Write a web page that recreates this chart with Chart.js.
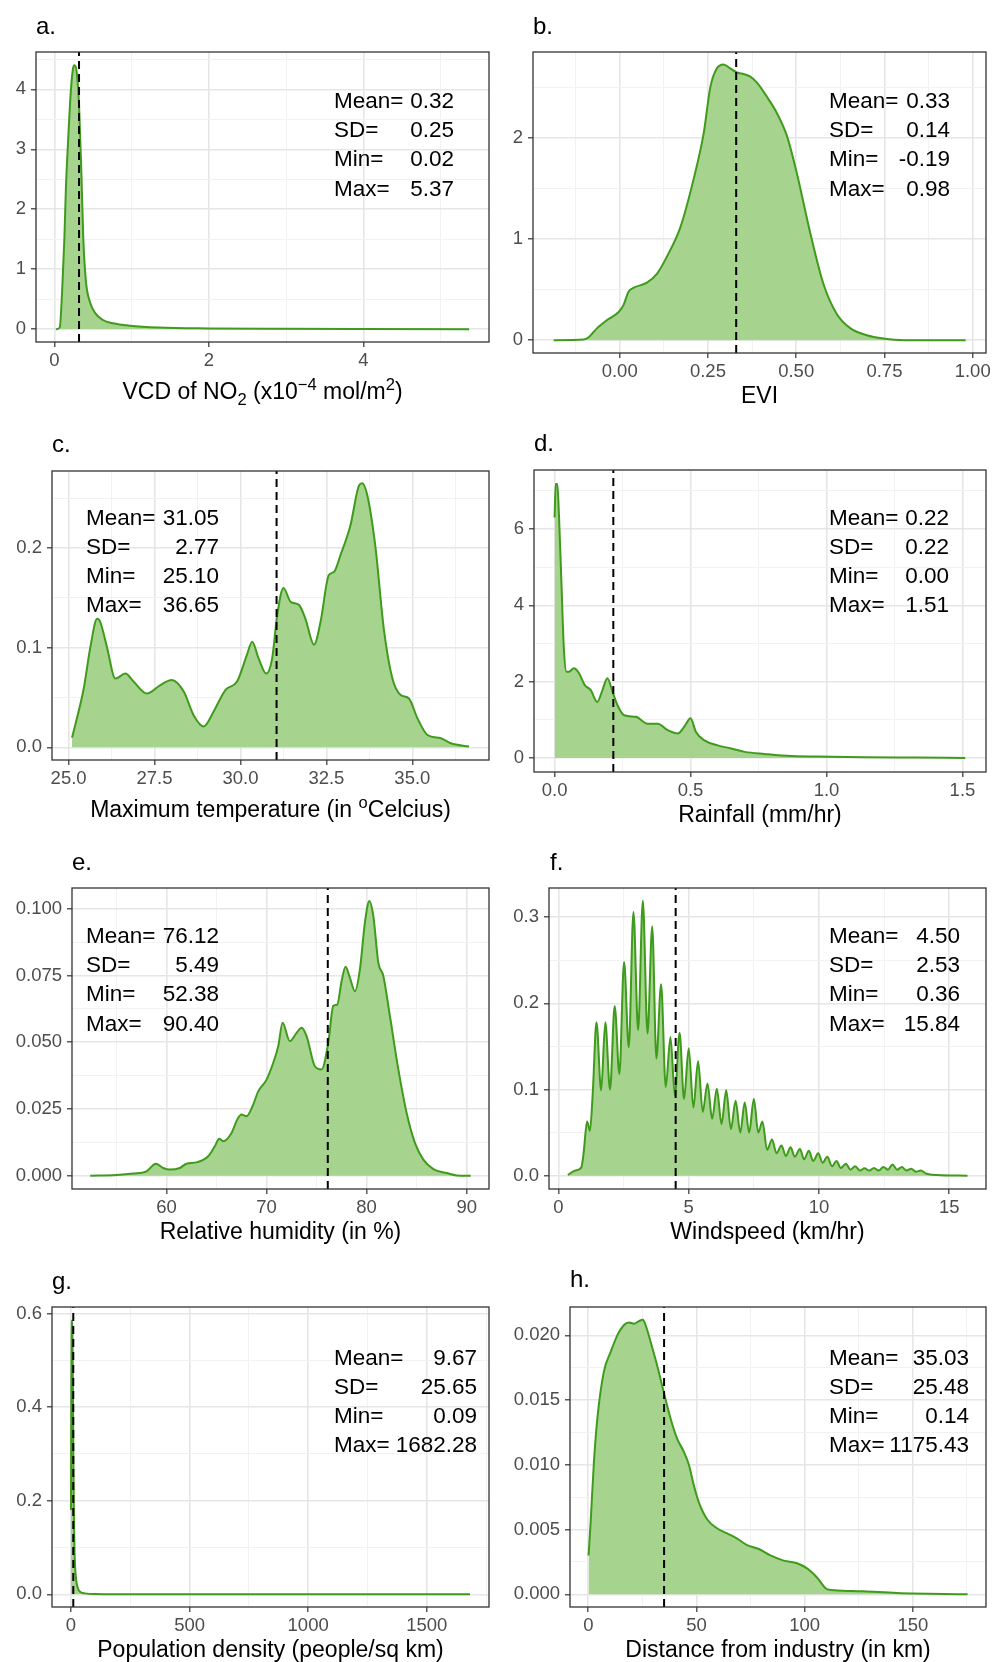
<!DOCTYPE html>
<html>
<head>
<meta charset="utf-8">
<script src="https://cdn.jsdelivr.net/npm/chart.js@4.4.1/dist/chart.umd.min.js"></script>
<style>
  html, body { margin: 0; padding: 0; background: #fff; }
  #page { position: relative; width: 993px; height: 1662px; overflow: hidden; font-family: "Liberation Sans", Arial, sans-serif; color: #000; }
  #page canvas { position: absolute; }
  .txt { position: absolute; white-space: nowrap; }
  .txt sub, .txt sup { line-height: 0; font-size: 72%; }
  .stats { position: absolute; }
  .stats div { display: flex; justify-content: space-between; white-space: nowrap; }
</style>
</head>
<body>
<div id="page"></div>
<script>
// a. NO2 column density
const aX = [0.02, 0.07, 0.10, 0.13, 0.15, 0.18, 0.21, 0.24, 0.26, 0.29, 0.32, 0.35, 0.375, 0.41, 0.46, 0.53, 0.63, 0.76, 0.98, 1.35, 2.0, 3.0, 4.0, 5.37];
const aY = [0.0, 0.03, 0.6, 1.5, 2.35, 3.18, 3.9, 4.33, 4.40, 4.29, 3.74, 2.63, 1.52, 0.79, 0.46, 0.27, 0.155, 0.10, 0.06, 0.03, 0.015, 0.008, 0.005, 0.002];
const aXTicks = ['0', '2', '4'];
const aYTicks = ['0', '1', '2', '3', '4'];
const aStats = ['0.32', '0.25', '0.02', '5.37'];

// b. EVI
const bX = [-0.187, -0.102, -0.088, -0.064, -0.036, -0.003, 0.011, 0.025, 0.04, 0.077, 0.106, 0.134, 0.172, 0.209, 0.238, 0.257, 0.275, 0.294, 0.313, 0.332, 0.346, 0.37, 0.389, 0.417, 0.445, 0.474, 0.502, 0.54, 0.577, 0.615, 0.653, 0.70, 0.747, 0.804, 0.98];
const bY = [0, 0.007, 0.03, 0.12, 0.2, 0.28, 0.35, 0.48, 0.52, 0.57, 0.66, 0.83, 1.12, 1.59, 2.05, 2.51, 2.69, 2.73, 2.69, 2.65, 2.64, 2.61, 2.55, 2.41, 2.25, 2.02, 1.65, 1.06, 0.56, 0.26, 0.12, 0.05, 0.017, 0.0, 0];
const bXTicks = ['0.00', '0.25', '0.50', '0.75', '1.00'];
const bYTicks = ['0', '1', '2'];
const bStats = ['0.33', '0.14', '-0.19', '0.98'];

// c. maximum temperature
const cX = [25.10, 25.44, 25.63, 25.83, 25.92, 26.12, 26.36, 26.65, 26.89, 27.28, 27.67, 28.0, 28.35, 28.64, 28.93, 29.22, 29.56, 29.9, 30.19, 30.34, 30.53, 30.75, 30.92, 31.07, 31.25, 31.46, 31.7, 31.89, 32.14, 32.33, 32.57, 32.72, 32.91, 33.2, 33.45, 33.54, 33.69, 33.93, 34.17, 34.42, 34.66, 34.9, 35.15, 35.44, 35.83, 36.12, 36.65];
const cY = [0.0097, 0.059, 0.1, 0.129, 0.126, 0.1, 0.069, 0.074, 0.066, 0.054, 0.0625, 0.0676, 0.056, 0.032, 0.021, 0.036, 0.0575, 0.066, 0.093, 0.106, 0.089, 0.074, 0.089, 0.133, 0.16, 0.146, 0.143, 0.129, 0.103, 0.126, 0.173, 0.176, 0.193, 0.223, 0.263, 0.265, 0.253, 0.2, 0.119, 0.069, 0.0525, 0.049, 0.029, 0.0124, 0.009, 0.004, 0.0007];
const cXTicks = ['25.0', '27.5', '30.0', '32.5', '35.0'];
const cYTicks = ['0.0', '0.1', '0.2'];
const cStats = ['31.05', '2.77', '25.10', '36.65'];

// d. rainfall
const dX = [0.0, 0.004, 0.01, 0.016, 0.025, 0.034, 0.044, 0.053, 0.071, 0.09, 0.111, 0.133, 0.157, 0.176, 0.194, 0.213, 0.231, 0.256, 0.299, 0.342, 0.379, 0.416, 0.453, 0.477, 0.5, 0.52, 0.551, 0.6, 0.649, 0.699, 0.772, 0.871, 1.018, 1.141, 1.326, 1.51];
const dY = [6.3, 7.18, 7.18, 6.39, 4.63, 2.88, 2.26, 2.26, 2.35, 2.22, 1.91, 1.78, 1.47, 1.78, 2.09, 1.74, 1.39, 1.12, 1.08, 0.9, 0.9, 0.73, 0.64, 0.82, 1.04, 0.68, 0.46, 0.33, 0.25, 0.16, 0.105, 0.05, 0.035, 0.018, 0.01, 0];
const dXTicks = ['0.0', '0.5', '1.0', '1.5'];
const dYTicks = ['0', '2', '4', '6'];
const dStats = ['0.22', '0.22', '0.00', '1.51'];

// e. relative humidity
const eX = [52.38, 55, 56.67, 58, 58.93, 59.67, 60.33, 61.33, 62, 63, 64.17, 64.83, 65.27, 65.67, 66.5, 67.07, 67.5, 68, 68.6, 69.17, 70, 70.67, 71.17, 71.6, 72.33, 73, 73.5, 74, 74.83, 75.5, 76.17, 76.67, 77.07, 77.5, 77.9, 78.33, 78.83, 79.33, 79.83, 80.27, 80.67, 81.17, 81.67, 82.33, 83.17, 84, 84.83, 85.67, 86.67, 88, 89, 90.4];
const eY = [0, 0.0003, 0.0008, 0.0016, 0.0045, 0.0029, 0.0023, 0.0029, 0.0045, 0.005, 0.0073, 0.011, 0.0138, 0.0129, 0.016, 0.021, 0.0229, 0.0223, 0.026, 0.0316, 0.036, 0.0423, 0.0485, 0.0573, 0.0504, 0.0535, 0.0554, 0.0523, 0.041, 0.0398, 0.0498, 0.0636, 0.0641, 0.0729, 0.0783, 0.0741, 0.0691, 0.0773, 0.0948, 0.1029, 0.0973, 0.0798, 0.0748, 0.0598, 0.0398, 0.0235, 0.0123, 0.006, 0.0025, 0.001, 0.0001, 0];
const eXTicks = ['60', '70', '80', '90'];
const eYTicks = ['0.000', '0.025', '0.050', '0.075', '0.100'];
const eStats = ['76.12', '5.49', '52.38', '90.40'];

// f. windspeed
const fX = [0.36, 0.65, 0.88, 0.97, 1.10, 1.21, 1.32, 1.46, 1.64, 1.80, 1.98, 2.16, 2.34, 2.52, 2.70, 2.88, 3.06, 3.24, 3.42, 3.60, 3.76, 3.94, 4.12, 4.30, 4.47, 4.65, 4.82, 5.00, 5.18, 5.36, 5.54, 5.72, 5.90, 6.08, 6.26, 6.44, 6.62, 6.80, 6.98, 7.15, 7.32, 7.50, 7.67, 7.83, 8.01, 8.20, 8.37, 8.56, 8.73, 8.91, 9.07, 9.27, 9.43, 9.61, 9.78, 9.97, 10.14, 10.32, 10.50, 10.67, 10.84, 11.03, 11.21, 11.39, 11.57, 11.75, 11.93, 12.11, 12.29, 12.47, 12.65, 12.82, 13.00, 13.18, 13.36, 13.54, 13.72, 13.90, 14.13, 14.52, 15.7];
const fY = [0.001, 0.006, 0.0097, 0.027, 0.063, 0.052, 0.097, 0.178, 0.099, 0.178, 0.10, 0.197, 0.118, 0.248, 0.149, 0.306, 0.169, 0.319, 0.165, 0.289, 0.136, 0.222, 0.103, 0.161, 0.093, 0.166, 0.089, 0.148, 0.079, 0.133, 0.074, 0.107, 0.066, 0.101, 0.06, 0.099, 0.054, 0.087, 0.05, 0.085, 0.05, 0.089, 0.05, 0.063, 0.03, 0.042, 0.026, 0.035, 0.023, 0.033, 0.022, 0.031, 0.019, 0.029, 0.017, 0.026, 0.015, 0.022, 0.011, 0.017, 0.009, 0.014, 0.007, 0.011, 0.006, 0.0085, 0.006, 0.009, 0.006, 0.01, 0.007, 0.013, 0.007, 0.01, 0.006, 0.008, 0.0047, 0.006, 0.0023, 0.0008, 0];
const fXTicks = ['0', '5', '10', '15'];
const fYTicks = ['0.0', '0.1', '0.2', '0.3'];
const fStats = ['4.50', '2.53', '0.36', '15.84'];

// g. population density
const gX = [0.09, 1.5, 3, 4.5, 6, 8, 10, 12, 15, 20, 30, 40, 60, 100, 200, 500, 1000, 1682.28];
const gY = [0.18, 0.45, 0.56, 0.585, 0.56, 0.45, 0.3, 0.18, 0.09, 0.04, 0.012, 0.005, 0.002, 0.0005, 0.0001, 0, 0, 0];
const gXTicks = ['0', '500', '1000', '1500'];
const gYTicks = ['0.0', '0.2', '0.4', '0.6'];
const gStats = ['9.67', '25.65', '0.09', '1682.28'];

// h. distance from industry
const hX = [0.14, 1.1, 2.6, 4.2, 7.2, 10.3, 13.4, 16.5, 18.8, 21.1, 23.4, 25.2, 26.5, 28.8, 31.8, 34.9, 38, 41.1, 44.2, 46.5, 48.8, 51.1, 54.9, 59.5, 64.2, 68.8, 73.4, 78.8, 84.2, 90.3, 96.5, 101.1, 105.7, 110.3, 114.9, 127.2, 142.6, 175.3];
const hY = [0.003, 0.0056, 0.0102, 0.0136, 0.0172, 0.0187, 0.02, 0.0208, 0.021, 0.0209, 0.0211, 0.0212, 0.0208, 0.0195, 0.0177, 0.0156, 0.0136, 0.012, 0.011, 0.01, 0.0084, 0.0071, 0.0058, 0.0051, 0.0047, 0.0043, 0.0038, 0.0035, 0.003, 0.0026, 0.0024, 0.002, 0.0013, 0.0004, 0.0003, 0.00023, 0.0001, 0];
const hXTicks = ['0', '50', '100', '150'];
const hYTicks = ['0.000', '0.005', '0.010', '0.015', '0.020'];
const hStats = ['35.03', '25.48', '0.14', '1175.43'];

const statLabels = ['Mean=', 'SD=', 'Min=', 'Max='];
const means = { a: 0.32, b: 0.33, c: 31.05, d: 0.216, e: 76.12, f: 4.50, g: 9.67, h: 35.03 };

const FONT = '"Liberation Sans", Arial, sans-serif';
const lineColor = '#3f9b1b';
const fillColor = '#a6d38d';

// box = [left, top, right, bottom] of each plot panel on the page
const panels = [
  { id: 'a', box: [36, 52, 489, 342], xr: [-0.237, 5.627], yr: [-0.212, 4.622], xs: aX, ys: aY, xt: aXTicks, yt: aYTicks, stats: aStats,
    title: 'VCD of NO<sub>2</sub> (x10<sup>−4</sup> mol/m<sup>2</sup>)', math: true, label: [36, 35], statPos: [334, 454, 108.3] },
  { id: 'b', box: [533, 52, 986, 353], xr: [-0.2456, 1.0377], yr: [-0.126, 2.853], xs: bX, ys: bY, xt: bXTicks, yt: bYTicks, stats: bStats,
    title: 'EVI', math: false, label: [533, 35], statPos: [829, 950, 108.3] },
  { id: 'c', box: [52, 471, 489, 760], xr: [24.517, 37.23], yr: [-0.01275, 0.2774], xs: cX, ys: cY, xt: cXTicks, yt: cYTicks, stats: cStats,
    title: 'Maximum temperature (in <sup>o</sup>Celcius)', math: true, label: [52, 453], statPos: [86, 219, 525] },
  { id: 'd', box: [534, 470, 986, 772], xr: [-0.0757, 1.5865], yr: [-0.367, 7.547], xs: dX, ys: dY, xt: dXTicks, yt: dYTicks, stats: dStats,
    title: 'Rainfall (mm/hr)', math: false, label: [534, 452], statPos: [829, 949, 525] },
  { id: 'e', box: [72, 888, 489, 1189], xr: [50.56, 92.23], yr: [-0.00498, 0.10775], xs: eX, ys: eY, xt: eXTicks, yt: eYTicks, stats: eStats,
    title: 'Relative humidity (in %)', math: false, label: [72, 871], statPos: [86, 219, 943.3] },
  { id: 'f', box: [549, 888, 986, 1189], xr: [-0.361, 16.41], yr: [-0.01543, 0.3338], xs: fX, ys: fY, xt: fXTicks, yt: fYTicks, stats: fStats,
    title: 'Windspeed (km/hr)', math: false, label: [550, 871], statPos: [829, 960, 943.3] },
  { id: 'g', box: [52, 1307, 489, 1607], xr: [-80.06, 1762.5], yr: [-0.0271, 0.614], xs: gX, ys: gY, xt: gXTicks, yt: gYTicks, stats: gStats,
    title: 'Population density (people/sq km)', math: false, label: [52, 1290], statPos: [334, 477, 1365] },
  { id: 'h', box: [570, 1307, 986, 1607], xr: [-8.45, 183.8], yr: [-0.00098, 0.02219], xs: hX, ys: hY, xt: hXTicks, yt: hYTicks, stats: hStats,
    title: 'Distance from industry (in km)', math: false, label: [570, 1288], statPos: [829, 969, 1365] }
];

const page = document.getElementById('page');

// top of a line box so that its baseline lands on y
function topFor(baseline, size, lh) {
  return baseline - ((lh - 1.117 * size) / 2 + 0.905 * size);
}

function addText(html, left, baseline, size, width, align) {
  const lh = size * 1.2;
  const el = document.createElement('div');
  el.className = 'txt';
  el.style.cssText = `left:${left}px; top:${topFor(baseline, size, lh)}px; font-size:${size}px; line-height:${lh}px; width:${width}px; text-align:${align};`;
  el.innerHTML = html;
  page.appendChild(el);
}

function addStats(values, pos) {
  const [l, r, base] = pos;
  const size = 22.5, lh = 29.3;
  const el = document.createElement('div');
  el.className = 'stats';
  el.style.cssText = `left:${l}px; top:${topFor(base, size, lh)}px; width:${r - l}px; font-size:${size}px; line-height:${lh}px;`;
  el.innerHTML = statLabels.map((s, i) => `<div><span>${s}</span><span>${values[i]}</span></div>`).join('');
  page.appendChild(el);
}

// major ticks from the label arrays, minor ones half way between
function makeTicks(labels, min, max) {
  const major = labels.map(Number);
  const step = major[1] - major[0];
  const ticks = major.map((v, i) => ({ value: v, minor: false, text: labels[i] }));
  for (let v = major[0] - step / 2; v <= max + 1e-9; v += step) {
    if (v >= min) ticks.push({ value: v, minor: true, text: '' });
  }
  return ticks.sort((p, q) => p.value - q.value);
}

function axis(labels, range, isX) {
  return {
    type: 'linear',
    min: range[0],
    max: range[1],
    bounds: 'data',
    afterBuildTicks: s => { s.ticks = makeTicks(labels, range[0], range[1]); },
    afterFit: s => {
      if (isX) { s.height = 40; s.paddingLeft = 0; s.paddingRight = 0; }
      else { s.width = 60; s.paddingTop = 0; s.paddingBottom = 0; }
    },
    ticks: {
      autoSkip: false,
      maxRotation: 0,
      color: '#4d4d4d',
      font: { size: 18.5, family: FONT },
      padding: isX ? 3 : 5,
      callback: (v, i, t) => t[i].text
    },
    grid: {
      color: c => (c.tick && c.tick.minor ? '#f2f2f2' : '#e6e6e6'),
      lineWidth: c => (c.tick && c.tick.minor ? 1 : 1.6),
      tickLength: 5,
      tickWidth: 1.2,
      tickColor: c => (c.tick && c.tick.minor ? 'rgba(0,0,0,0)' : '#333')
    },
    border: { display: false }
  };
}

const frame = {
  id: 'frame',
  afterDraw(chart) {
    const { ctx, chartArea: a } = chart;
    ctx.save();
    ctx.strokeStyle = '#333';
    ctx.lineWidth = 1.3;
    ctx.strokeRect(a.left, a.top, a.right - a.left, a.bottom - a.top);
    ctx.restore();
  }
};

panels.forEach(p => {
  const [l, t, r, b] = p.box;
  const canvas = document.createElement('canvas');
  canvas.width = r - l + 80;
  canvas.height = b - t + 60;
  canvas.style.left = (l - 60) + 'px';
  canvas.style.top = (t - 20) + 'px';
  page.appendChild(canvas);

  const mean = means[p.id];
  new Chart(canvas, {
    type: 'line',
    data: {
      datasets: [
        {
          data: [{ x: mean, y: p.yr[0] }, { x: mean, y: p.yr[1] }],
          borderColor: '#000',
          borderWidth: 2,
          borderDash: [8, 5],
          pointRadius: 0,
          fill: false
        },
        {
          data: p.xs.map((x, i) => ({ x, y: p.ys[i] })),
          borderColor: lineColor,
          borderWidth: 2,
          backgroundColor: fillColor,
          fill: 'origin',
          pointRadius: 0,
          cubicInterpolationMode: 'monotone'
        }
      ]
    },
    options: {
      responsive: false,
      animation: false,
      devicePixelRatio: 1,
      events: [],
      layout: { padding: { left: 0, top: 20, right: 20, bottom: 0 } },
      plugins: { legend: { display: false }, tooltip: { enabled: false } },
      scales: { x: axis(p.xt, p.xr, true), y: axis(p.yt, p.yr, false) }
    },
    plugins: [frame]
  });

  addText(p.id + '.', p.label[0], p.label[1], 24, 60, 'left');
  addText(p.title, (l + r) / 2 - 250, b + (p.math ? 57.5 : 51), 23, 500, 'center');
  addStats(p.stats, p.statPos);
});
</script>
</body>
</html>
